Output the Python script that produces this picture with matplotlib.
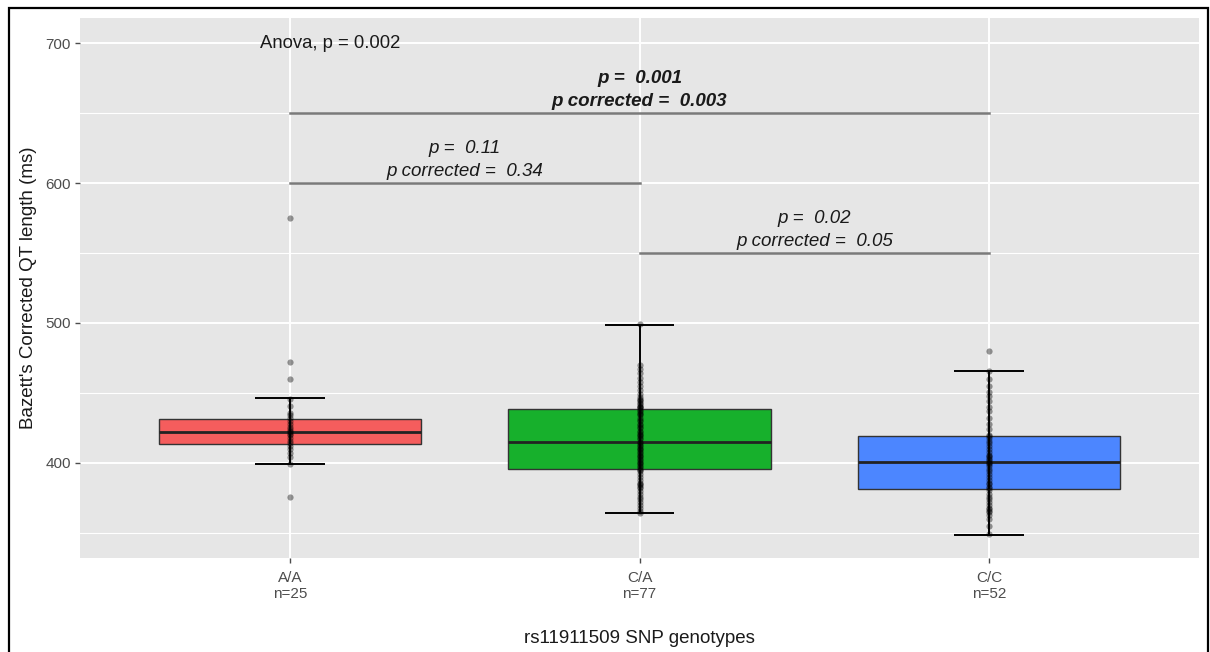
import matplotlib.pyplot as plt
from matplotlib.patches import Rectangle

plt.rcParams['font.family'] = ['Liberation Sans', 'DejaVu Sans']

# groups and labels
genotypes = ['A/A', 'C/A', 'C/C']
counts = [25, 77, 52]
box_colors = ['#F55D5D', '#17B02C', '#4C86FF']

# QTc values (ms)
qt_aa = [575, 472, 460, 446, 441, 436, 434, 432, 430, 428, 426, 424, 423,
         422, 421, 420, 418, 416, 414, 412, 410, 407, 404, 399, 376]
qt_ca = [499, 470, 467, 464, 461, 458, 455, 452, 449, 447, 446, 445, 444,
         443, 442, 441, 440, 440, 439,
         438, 437, 436, 435, 434, 432, 431, 430, 428, 427, 426, 425, 423,
         422, 421, 420, 419, 418, 417,
         415,
         414, 413, 412, 411, 410, 409, 408, 407, 406, 405, 404, 403, 402,
         401, 400, 399, 398, 397, 396,
         395, 394, 392, 390, 388, 386, 385, 384, 383, 382, 380, 378, 376,
         374, 372, 370, 368, 366, 364]
qt_cc = [480, 466, 460, 455, 451, 448, 444, 440, 437, 432, 428, 424, 420,
         419, 418, 416, 414, 412, 410, 408, 406, 405, 404, 403, 402,
         401, 400, 399, 398, 396, 394, 392, 390, 388, 386, 385, 383, 382,
         381, 378, 376, 374, 372, 370, 368, 367, 366, 365, 363, 360, 355, 349]
groups = [qt_aa, qt_ca, qt_cc]

# box summary as drawn in the reference
medians = [422, 415, 401]
q1 = [413.6, 395.7, 381.4]
q3 = [431.4, 438.6, 419.3]
whisk_lo = [399.3, 364.3, 348.6]
whisk_hi = [446.4, 498.6, 465.7]

# pairwise comparisons: (i, j, bar height, p, p corrected, bold)
comparisons = [(0, 1, 600, '0.11', '0.34', False),
               (1, 2, 550, '0.02', '0.05', False),
               (0, 2, 650, '0.001', '0.003', True)]
anova_text = 'Anova, p = 0.002'

fig = plt.figure(figsize=(12.1, 6.52), dpi=100)
ax = fig.add_axes([80 / 1210, 1 - 558 / 652, 1119 / 1210, 540 / 652])
ax.set_facecolor('#E6E6E6')

pos = [1, 2, 3]
stats = []
for k in range(3):
    stats.append({'med': medians[k], 'q1': q1[k], 'q3': q3[k],
                  'whislo': whisk_lo[k], 'whishi': whisk_hi[k], 'fliers': []})

bp = ax.bxp(stats, positions=pos, widths=0.75, patch_artist=True,
            showfliers=False, showcaps=False, zorder=3,
            boxprops=dict(edgecolor='#333333', linewidth=1.0),
            medianprops=dict(color='#222222', linewidth=2.0),
            whiskerprops=dict(linewidth=0))
for patch, c in zip(bp['boxes'], box_colors):
    patch.set_facecolor(c)

# error-bar style whiskers
for k in range(3):
    ax.vlines(pos[k], whisk_lo[k], q1[k], color='black', lw=1.4, zorder=2)
    ax.vlines(pos[k], q3[k], whisk_hi[k], color='black', lw=1.4, zorder=2)
    ax.vlines(pos[k], q1[k], q3[k], color='black', lw=1.4, zorder=4)
    ax.hlines([whisk_lo[k], whisk_hi[k]], pos[k] - 0.1, pos[k] + 0.1,
              color='black', lw=1.4, zorder=4)

for k, vals in enumerate(groups):
    ax.scatter([pos[k]] * len(vals), vals, s=20, color='black', alpha=0.4,
               linewidths=0, zorder=5)

for i, j, h, p, pc, bold in comparisons:
    ax.plot([pos[i], pos[j]], [h, h], color='#7A7A7A', lw=1.8, zorder=2)
    mid = (pos[i] + pos[j]) / 2
    w = 'bold' if bold else 'normal'
    ax.text(mid, h + 25, 'p =  ' + p, ha='center', va='center', style='italic',
            weight=w, fontsize=13.5, color='#1A1A1A')
    ax.text(mid, h + 8.5, 'p corrected =  ' + pc, ha='center', va='center',
            style='italic', weight=w, fontsize=13.5, color='#1A1A1A')

ax.text(0.915, 700, anova_text, ha='left', va='center', fontsize=13.3,
        color='#1A1A1A')

ax.set_xlim(0.4, 3.6)
ax.set_ylim(332.1, 717.9)
ax.set_xticks(pos)
ax.set_xticklabels([f'{g}\nn={n}' for g, n in zip(genotypes, counts)],
                   fontsize=11, color='#4D4D4D', linespacing=1.12)
ax.set_yticks([400, 500, 600, 700])
ax.set_yticks([350, 450, 550, 650], minor=True)
ax.tick_params(axis='y', which='major', labelsize=11, labelcolor='#4D4D4D',
               color='#4D4D4D', length=3.5, width=1, pad=3)
ax.tick_params(axis='y', which='minor', length=0)
ax.tick_params(axis='x', color='#4D4D4D', length=3.5, width=1, pad=6)
ax.grid(True, which='major', color='white', lw=1.4, zorder=0)
ax.grid(True, which='minor', axis='y', color='white', lw=0.8, zorder=0)
ax.set_axisbelow(True)
for s in ax.spines.values():
    s.set_visible(False)

ax.set_ylabel("Bazett's Corrected QT length (ms)", fontsize=13.5,
              color='#1A1A1A', labelpad=6)
ax.set_xlabel('rs11911509 SNP genotypes', fontsize=13.5, color='#1A1A1A',
              labelpad=21)

# black frame around the whole picture
fig.patches.append(Rectangle((9 / 1210, -0.05), 1199 / 1210, 1 - 8 / 652 + 0.05,
                             transform=fig.transFigure, fill=False,
                             edgecolor='black', lw=1.6))

fig.savefig('out.png', dpi=100)
